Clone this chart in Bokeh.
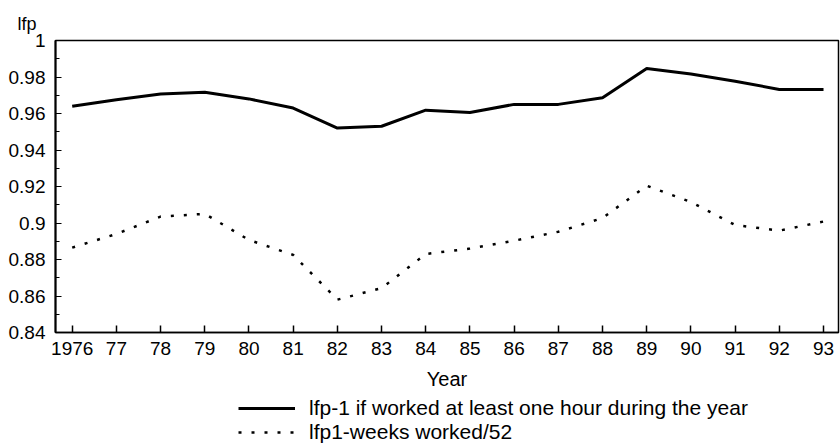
from bokeh.plotting import figure
from bokeh.layouts import column
from bokeh.models import FixedTicker, Range1d, Legend, LegendItem, Title
from bokeh.embed import file_html
from bokeh.resources import INLINE

# ---- data ----
years = list(range(1976, 1994))
x_tick_labels = ["1976", "77", "78", "79", "80", "81", "82", "83", "84", "85",
                 "86", "87", "88", "89", "90", "91", "92", "93"]
lfp_hour = [0.964, 0.9675, 0.9707, 0.9717, 0.968, 0.963, 0.952, 0.953, 0.9618,
            0.9605, 0.965, 0.965, 0.9686, 0.9847, 0.9816, 0.9777, 0.9732, 0.9732]
lfp_weeks = [0.8865, 0.894, 0.9035, 0.905, 0.8907, 0.8825, 0.858, 0.8643, 0.883,
             0.886, 0.8903, 0.8952, 0.9027, 0.9204, 0.9115, 0.8989, 0.8958, 0.9008]
y_ticks = [0.84, 0.86, 0.88, 0.90, 0.92, 0.94, 0.96, 0.98, 1.0]
y_tick_labels = ["0.84", "0.86", "0.88", "0.9", "0.92", "0.94", "0.96", "0.98", "1"]
y_minor = [0.85, 0.87, 0.89, 0.91, 0.93, 0.95, 0.97, 0.99]
series_names = ["lfp-1 if worked at least one hour during the year",
                "lfp1-weeks worked/52"]

FONT = "Liberation Sans"
SOLID = dict(line_color="black", line_width=3)
DOTTED = dict(line_color="black", line_width=2.5, line_dash="3 10")

p = figure(width=840, height=396, output_backend="svg", toolbar_location=None,
           x_range=Range1d(1975.622, 1993.339), y_range=Range1d(0.84, 1.0),
           min_border_left=55, min_border_top=40, min_border_bottom=64,
           min_border_right=2)
p.background_fill_color = "white"
p.border_fill_color = "white"
p.outline_line_color = "black"
p.outline_line_width = 1.5
p.xgrid.visible = False
p.ygrid.visible = False

p.line(years, lfp_hour, **SOLID)
p.line(years, lfp_weeks, **DOTTED)

# x axis
xa = p.xaxis[0]
xa.ticker = FixedTicker(ticks=years, minor_ticks=[])
xa.major_label_overrides = {y: l for y, l in zip(years, x_tick_labels)}
xa.major_tick_in = 7
xa.major_tick_out = 0
xa.minor_tick_in = 0
xa.minor_tick_out = 0
xa.major_tick_line_width = 1.5
xa.axis_line_width = 1.5
xa.major_label_text_font = FONT
xa.major_label_text_font_size = "19px"
xa.major_label_text_color = "black"
xa.major_label_standoff = 9
xa.axis_label = "Year"
xa.axis_label_text_font = FONT
xa.axis_label_text_font_size = "20px"
xa.axis_label_text_font_style = "normal"
xa.axis_label_text_color = "black"
xa.axis_label_standoff = 10

# y axis
ya = p.yaxis[0]
ya.ticker = FixedTicker(ticks=y_ticks, minor_ticks=y_minor)
ya.major_label_overrides = {t: l for t, l in zip(y_ticks, y_tick_labels)}
ya.major_tick_in = 6
ya.major_tick_out = 0
ya.minor_tick_in = 4
ya.minor_tick_out = 0
ya.major_tick_line_width = 1.2
ya.minor_tick_line_width = 1.2
ya.axis_line_width = 2
ya.major_label_text_font = FONT
ya.major_label_text_font_size = "19px"
ya.major_label_text_color = "black"
ya.major_label_standoff = 10

# y-axis title "lfp" at top left
p.add_layout(Title(text="lfp", align="left", offset=-38, text_font=FONT,
                   text_font_size="18px", text_font_style="normal",
                   text_color="black", standoff=14), "above")

# ---- legend strip below the chart (its lines fall outside its ranges) ----
lg = figure(width=840, height=48, output_backend="svg", toolbar_location=None,
            x_range=Range1d(0, 1), y_range=Range1d(0, 1),
            x_axis_location=None, y_axis_location=None,
            min_border_left=0, min_border_right=0, min_border_top=0,
            min_border_bottom=0)
lg.outline_line_color = None
lg.xgrid.visible = False
lg.ygrid.visible = False
lg.background_fill_color = "white"
lg.border_fill_color = "white"
k1 = lg.line(years, lfp_hour, **SOLID)
k2 = lg.line(years, lfp_weeks, **DOTTED)

legend = Legend(items=[LegendItem(label=series_names[0], renderers=[k1]),
                       LegendItem(label=series_names[1], renderers=[k2])],
                location=(183, 0), orientation="vertical",
                padding=0, margin=0, spacing=0,
                glyph_width=57, glyph_height=20, label_height=20,
                label_standoff=14, border_line_color=None,
                background_fill_alpha=0,
                label_text_font=FONT, label_text_font_size="21px",
                label_text_color="black")
lg.add_layout(legend, "center")

layout = column(p, lg, spacing=0)
open("out.html", "w").write(file_html(layout, INLINE))
